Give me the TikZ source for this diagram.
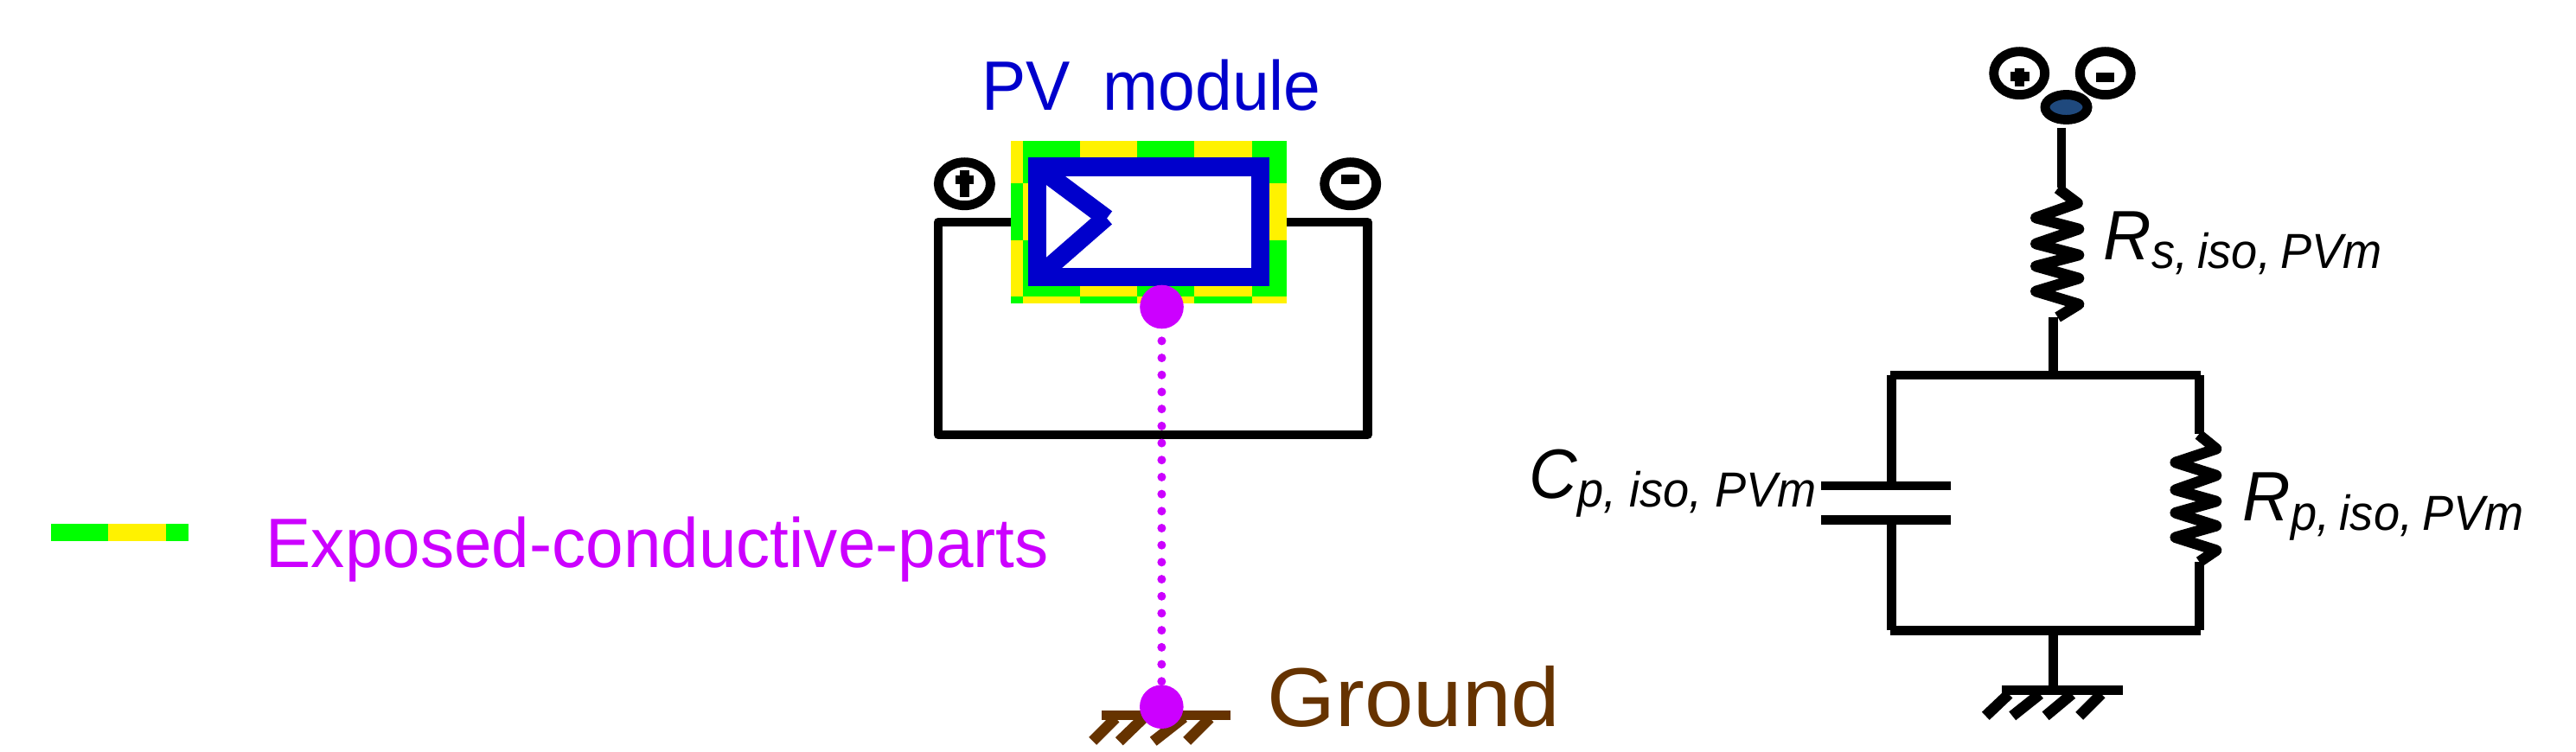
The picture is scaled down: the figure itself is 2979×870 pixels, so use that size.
\documentclass[tikz,border=0pt]{standalone}
\usepackage{fontspec}
\setmainfont{Liberation Sans}
\newfontfamily\narrowfont[FakeStretch=0.95]{Liberation Sans}
\newfontfamily\legendfont[FakeStretch=0.968]{Liberation Sans}
\newfontfamily\widefont[FakeStretch=1.05]{Liberation Sans}
\definecolor{modblue}{HTML}{0000CC}
\definecolor{partmag}{HTML}{CC00FF}
\definecolor{gndbrown}{HTML}{663300}
\definecolor{portnavy}{HTML}{1F497D}
\newcommand{\isolabel}[2]{\narrowfont\itshape\fontsize{23}{27}\selectfont #1\fontsize{16.2}{20}\selectfont\raisebox{-3pt}{#2}}
\tikzset{
	wire/.style={line width=3.05pt, line join=round},
	zigzag/.style={line width=3.6pt, line join=round},
	hatch/.style={line width=3.6pt},
	bar/.style={line width=3pt},
	termring/.style={line width=3.1pt},
	modline/.style={line width=6pt, color=modblue},
	dotline/.style={line width=2.85pt, color=partmag, line cap=round, dash pattern=on 0pt off 5.6pt},
	isotext/.style={anchor=base west, inner sep=0pt}
}
\begin{document}
\begin{tikzpicture}[x=0.01cm, y=-0.01cm]
	%%%%% START %%%%%
	\useasboundingbox (0, 0) rectangle (2979, 870);
	
	\coordinate (wiretl) at (1085, 257);
	\coordinate (wirebr) at (1581.6, 503);
	\coordinate (termp) at (1115.4, 212.7);
	\coordinate (termn) at (1561.7, 212.7);
	\coordinate (modpin) at (1343.5, 355);
	\coordinate (gndpin) at (1343.3, 817.7);
	
	% module
	\draw[wire] (wiretl) rectangle (wirebr);
	\fill[green] (1169, 163) rectangle (1488, 351);
	\foreach \xa/\ya/\xb/\yb in {1169/163/1183/212, 1183/212/1189/278, 1169/278/1183/343,
			1249/163/1315/190, 1381/163/1448/190, 1468/212/1488/278,
			1249/325/1315/343, 1381/325/1448/343,
			1183/343/1249/351, 1315/343/1381/351, 1448/343/1488/351}
		\fill[yellow] (\xa, \ya) rectangle (\xb, \yb);
	\draw[modline, fill=white] (1199.5, 193) rectangle (1457.5, 320.5);
	\draw[modline] (1199.5, 193) -- (1279.8, 252.8);
	\draw[modline] (1199.5, 321) -- (1279, 251.5);
	\node[isotext, color=modblue, font=\narrowfont\fontsize{23}{27}\selectfont] (modtext) at (1135, 127.3) {PV\ \ \kern-1.5pt module};
	
	% module terminals
	\draw[termring] (termp) ellipse [x radius=30, y radius=25];
	\fill (1110, 197) rectangle (1121, 228);
	\fill (1105, 203.3) rectangle (1126, 213);
	\draw[termring] (termn) ellipse [x radius=30, y radius=25];
	\fill (1551, 202) rectangle (1572.4, 213);
	
	% earthing
	\draw[dotline] (modpin) -- (gndpin);
	\fill[gndbrown] (1274, 822) rectangle (1423, 833);
	\draw[hatch, gndbrown] (1290, 831) -- (1263.7, 857.3);
	\draw[hatch, gndbrown] (1323, 830) -- (1294.3, 857.7);
	\draw[hatch, gndbrown] (1369, 830) -- (1333.7, 857.7);
	\draw[hatch, gndbrown] (1399, 831) -- (1372.7, 857.3);
	\fill[partmag] (modpin) circle (25.3);
	\fill[partmag] (gndpin) circle (25.3);
	\node[isotext, color=gndbrown, font=\widefont\fontsize{27.5}{32}\selectfont] (gndtext) at (1465, 840) {Ground};
	
	% legend
	\fill[green] (58.9, 606) rectangle (218, 626);
	\fill[yellow] (125.2, 606) rectangle (191.5, 626);
	\node[isotext, color=partmag, font=\legendfont\fontsize{23}{27}\selectfont] (legtext) at (307, 656) {Exposed-conductive-parts};
	
	%%%%% equivalent circuit %%%%%
	\coordinate (portp) at (2335.2, 84.7);
	\coordinate (portn) at (2434.7, 84.7);
	\coordinate (portc) at (2389.5, 124);
	\coordinate (topwire) at (2384, 148);
	\coordinate (rsin) at (2384, 217);
	\coordinate (rsout) at (2374.6, 367);
	\coordinate (topmid) at (2374.6, 434);
	\coordinate (topleft) at (2186, 434);
	\coordinate (topright) at (2545, 434);
	\coordinate (capin) at (2187.8, 557);
	\coordinate (capout) at (2187.8, 606);
	\coordinate (botleft) at (2186, 729.5);
	\coordinate (botright) at (2545, 729.5);
	\coordinate (botmid) at (2374.5, 729.5);
	\coordinate (rpin) at (2543.4, 502);
	\coordinate (rpout) at (2543.4, 650);
	\coordinate (gndbar) at (2374.5, 793);
	
	\draw[termring] (portp) ellipse [x radius=29.5, y radius=25];
	\fill (2330, 79) rectangle (2341, 100);
	\fill (2325, 83) rectangle (2346.7, 94);
	\draw[termring] (portn) ellipse [x radius=29.5, y radius=25];
	\fill (2424, 84) rectangle (2445.4, 95);
	\draw[termring, fill=portnavy] (portc) ellipse [x radius=24.5, y radius=14.5];
	
	\draw[wire] (topwire) -- (rsin);
	\draw[zigzag] (2379.6, 218) -- (2402.5, 235) -- (2354.3, 252) -- (2404, 265) -- (2354.3, 282) -- (2404, 295)
		-- (2354.3, 308) -- (2404, 322) -- (2354.3, 337) -- (2404, 352) -- (2379.6, 367);
	\draw[wire] (rsout) -- (topmid);
	\draw[bar] (topleft) -- (topright);
	\draw[wire] (2187.8, 434) -- (capin);
	\draw[bar] (2106, 562) -- (2256, 562);
	\draw[bar] (2106, 601.5) -- (2256, 601.5);
	\draw[wire] (capout) -- (2187.8, 729);
	\draw[bar] (botleft) -- (botright);
	\draw[wire] (2543.4, 434) -- (rpin);
	\draw[zigzag] (2542.6, 502.7) -- (2563, 519.3) -- (2515.7, 535) -- (2563, 550) -- (2515.7, 566.7) -- (2563, 580)
		-- (2515.7, 593.3) -- (2563, 608.3) -- (2515.7, 621.7) -- (2563, 636.7) -- (2543.4, 650);
	\draw[wire] (rpout) -- (2543.4, 729);
	\draw[wire] (botmid) -- (gndbar);
	\fill (2315, 793) rectangle (2455, 803.7);
	\draw[hatch] (2323, 803) -- (2296.3, 828.3);
	\draw[hatch] (2359, 803) -- (2327.2, 828.3);
	\draw[hatch] (2396, 803) -- (2365.6, 828.3);
	\draw[hatch] (2430, 803) -- (2404.7, 828.3);
	
	\node[isotext] (rslabel) at (2432, 300) {\isolabel{R}{s,\kern3.3pt iso,\kern3.3pt PVm}};
	\node[isotext] (cplabel) at (1768, 576) {\isolabel{C}{p,\kern4.3pt iso,\kern4.3pt PVm}};
	\node[isotext] (rplabel) at (2593, 602.7) {\isolabel{R}{p,\kern3.3pt iso,\kern3.3pt PVm}};
	%%%%% END %%%%%
\end{tikzpicture}
\end{document}
